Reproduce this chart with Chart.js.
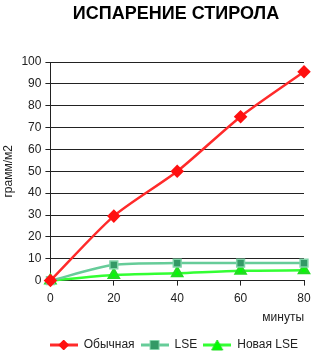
<!DOCTYPE html>
<html>
<head>
<meta charset="utf-8">
<script src="https://cdn.jsdelivr.net/npm/chart.js@4"></script>
<style>
  html, body { margin: 0; padding: 0; background: #fff; }
  canvas { display: block; }
</style>
</head>
<body>
<canvas id="chart" width="326" height="354"></canvas>
<script>
// Время (минуты) и испарение, грамм/м2
const minutes = [0, 20, 40, 60, 80];
const regular = [0, 29.5, 50, 75, 95.5];
const lse = [0, 7.2, 8, 8, 8];
const newLse = [0, 2.6, 3.4, 4.5, 4.7];

const yTicks = { min: 0, max: 100, step: 10 };
const xTicks = { min: 0, max: 80, step: 20 };

const FONT = "'Liberation Sans', Arial, sans-serif";

// Маркер легенды: отрезок линии с маркером посередине
function legendIcon(lineColor, fill, stroke, shape) {
    const c = document.createElement('canvas');
    c.width = 28; c.height = 12;
    const g = c.getContext('2d');
    g.strokeStyle = lineColor;
    g.lineWidth = 3;
    g.beginPath(); g.moveTo(0, 6); g.lineTo(28, 6); g.stroke();
    g.fillStyle = fill;
    g.strokeStyle = stroke;
    g.lineWidth = 1;
    g.beginPath();
    if (shape === 'diamond') {
        g.moveTo(14, 1); g.lineTo(19, 6); g.lineTo(14, 11); g.lineTo(9, 6);
    } else if (shape === 'square') {
        g.rect(9.5, 1.5, 9, 9);
    } else {
        g.moveTo(14, 1); g.lineTo(19.5, 11); g.lineTo(8.5, 11);
    }
    g.closePath(); g.fill(); g.stroke();
    return c;
}

function toPoints(values) {
    return values.map((v, i) => ({ x: minutes[i], y: v }));
}

// Заголовок рисуем сами, чтобы сдвинуть его правее центра
const titlePlugin = {
    id: 'chartTitle',
    afterDraw(chart) {
        const ctx = chart.ctx;
        ctx.save();
        ctx.font = 'bold 18px ' + FONT;
        ctx.fillStyle = '#000';
        ctx.textAlign = 'center';
        ctx.textBaseline = 'middle';
        ctx.fillText('ИСПАРЕНИЕ СТИРОЛА', 176, 14);
        ctx.restore();
    }
};

new Chart(document.getElementById('chart').getContext('2d'), {
    type: 'line',
    data: {
        datasets: [{
            label: 'Обычная',
            data: toPoints(regular),
            borderColor: '#ff2a2a',
            backgroundColor: '#ff1010',
            borderWidth: 2.5,
            pointStyle: 'rectRot',
            pointRadius: 5,
            pointBorderColor: '#ff1010',
            tension: 0.25,
        }, {
            label: 'LSE',
            data: toPoints(lse),
            borderColor: '#66cc99',
            backgroundColor: '#339966',
            borderWidth: 2.5,
            pointStyle: 'rect',
            pointRadius: 5.5,
            pointBorderColor: '#7fd4a8',
            pointBorderWidth: 1.5,
            tension: 0.25,
        }, {
            label: 'Новая LSE',
            data: toPoints(newLse),
            borderColor: '#33ff33',
            backgroundColor: '#00ff00',
            borderWidth: 2.5,
            pointStyle: 'triangle',
            pointRadius: 5.5,
            pointBorderColor: '#22dd22',
            tension: 0.25,
        }],
    },
    options: {
        responsive: false,
        animation: false,
        clip: false,
        layout: { padding: { top: 62, right: 22, left: 1, bottom: -7 } },
        plugins: {
            title: { display: false },
            tooltip: { enabled: false },
            legend: {
                position: 'bottom',
                align: 'end',
                labels: {
                    font: { family: FONT, size: 12 },
                    color: '#222',
                    usePointStyle: true,
                    pointStyleWidth: 28,
                    boxHeight: 12,
                    padding: 6,
                    generateLabels(chart) {
                        const icons = [
                            legendIcon('#ff2a2a', '#ff1010', '#ff1010', 'diamond'),
                            legendIcon('#66cc99', '#339966', '#7fd4a8', 'square'),
                            legendIcon('#33ff33', '#00ff00', '#22dd22', 'triangle'),
                        ];
                        return chart.data.datasets.map((ds, i) => ({
                            text: ds.label,
                            pointStyle: icons[i],
                            fontColor: '#222',
                            datasetIndex: i,
                            hidden: false,
                            lineWidth: 0,
                        }));
                    },
                },
            },
        },
        scales: {
            x: {
                type: 'linear',
                min: xTicks.min,
                max: xTicks.max,
                ticks: {
                    stepSize: xTicks.step,
                    font: { family: FONT, size: 12 },
                    color: '#222',
                    padding: 6,
                },
                grid: { drawOnChartArea: false, drawTicks: true, tickLength: 5, color: '#222' },
                border: { display: true, color: '#222', width: 1 },
                title: {
                    display: true,
                    text: 'минуты',
                    align: 'end',
                    font: { family: FONT, size: 12, lineHeight: 1 },
                    color: '#222',
                    padding: { top: 0, bottom: 9 },
                },
            },
            y: {
                min: yTicks.min,
                max: yTicks.max,
                ticks: {
                    stepSize: yTicks.step,
                    font: { family: FONT, size: 12 },
                    color: '#222',
                    padding: 4,
                },
                grid: { color: '#222', drawTicks: true, tickLength: 5 },
                border: { display: true, color: '#222', width: 1 },
                title: {
                    display: true,
                    text: 'грамм/м2',
                    font: { family: FONT, size: 12 },
                    color: '#222',
                    padding: { top: 0, bottom: 2 },
                },
            },
        },
    },
    plugins: [titlePlugin],
});
</script>
</body>
</html>
